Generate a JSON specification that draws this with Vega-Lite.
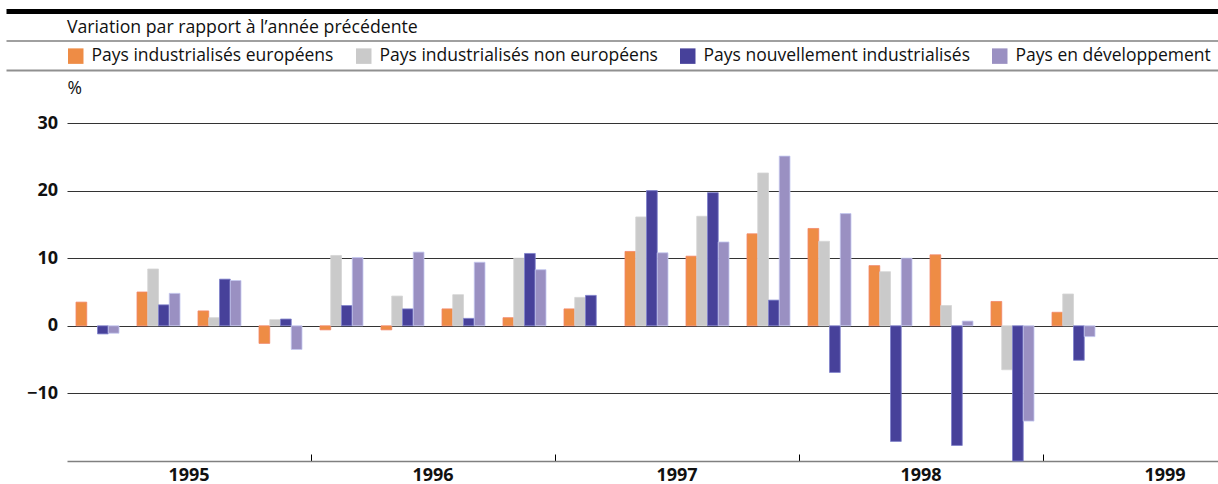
{
  "$schema": "https://vega.github.io/schema/vega-lite/v6.json",
  "width": 1151,
  "height": 338,
  "autosize": {"type": "none"},
  "padding": {"left": 67, "top": 123, "right": 0, "bottom": 23},
  "background": "white",
  "config": {"view": {"stroke": null}, "font": "Open Sans"},
  "title": {
    "text": "Variation par rapport à l’année précédente",
    "anchor": "start",
    "frame": "group",
    "fontSize": 17.7,
    "fontWeight": "normal",
    "color": "#111111",
    "font": "Open Sans",
    "dy": 30
  },
  "datasets": {
    "commerce": [
      {"periode": "1995 T1", "serie": "Pays industrialisés européens", "valeur": 3.5},
      {"periode": "1995 T1", "serie": "Pays nouvellement industrialisés", "valeur": -1.2},
      {"periode": "1995 T1", "serie": "Pays en développement", "valeur": -1.1},
      {"periode": "1995 T2", "serie": "Pays industrialisés européens", "valeur": 5.0},
      {"periode": "1995 T2", "serie": "Pays industrialisés non européens", "valeur": 8.4},
      {"periode": "1995 T2", "serie": "Pays nouvellement industrialisés", "valeur": 3.1},
      {"periode": "1995 T2", "serie": "Pays en développement", "valeur": 4.8},
      {"periode": "1995 T3", "serie": "Pays industrialisés européens", "valeur": 2.2},
      {"periode": "1995 T3", "serie": "Pays industrialisés non européens", "valeur": 1.2},
      {"periode": "1995 T3", "serie": "Pays nouvellement industrialisés", "valeur": 6.9},
      {"periode": "1995 T3", "serie": "Pays en développement", "valeur": 6.7},
      {"periode": "1995 T4", "serie": "Pays industrialisés européens", "valeur": -2.6},
      {"periode": "1995 T4", "serie": "Pays industrialisés non européens", "valeur": 0.9},
      {"periode": "1995 T4", "serie": "Pays nouvellement industrialisés", "valeur": 1.0},
      {"periode": "1995 T4", "serie": "Pays en développement", "valeur": -3.5},
      {"periode": "1996 T1", "serie": "Pays industrialisés européens", "valeur": -0.6},
      {"periode": "1996 T1", "serie": "Pays industrialisés non européens", "valeur": 10.4},
      {"periode": "1996 T1", "serie": "Pays nouvellement industrialisés", "valeur": 3.0},
      {"periode": "1996 T1", "serie": "Pays en développement", "valeur": 10.1},
      {"periode": "1996 T2", "serie": "Pays industrialisés européens", "valeur": -0.6},
      {"periode": "1996 T2", "serie": "Pays industrialisés non européens", "valeur": 4.4},
      {"periode": "1996 T2", "serie": "Pays nouvellement industrialisés", "valeur": 2.5},
      {"periode": "1996 T2", "serie": "Pays en développement", "valeur": 10.9},
      {"periode": "1996 T3", "serie": "Pays industrialisés européens", "valeur": 2.5},
      {"periode": "1996 T3", "serie": "Pays industrialisés non européens", "valeur": 4.6},
      {"periode": "1996 T3", "serie": "Pays nouvellement industrialisés", "valeur": 1.1},
      {"periode": "1996 T3", "serie": "Pays en développement", "valeur": 9.4},
      {"periode": "1996 T4", "serie": "Pays industrialisés européens", "valeur": 1.2},
      {"periode": "1996 T4", "serie": "Pays industrialisés non européens", "valeur": 10.0},
      {"periode": "1996 T4", "serie": "Pays nouvellement industrialisés", "valeur": 10.7},
      {"periode": "1996 T4", "serie": "Pays en développement", "valeur": 8.3},
      {"periode": "1997 T1", "serie": "Pays industrialisés européens", "valeur": 2.5},
      {"periode": "1997 T1", "serie": "Pays industrialisés non européens", "valeur": 4.2},
      {"periode": "1997 T1", "serie": "Pays nouvellement industrialisés", "valeur": 4.5},
      {"periode": "1997 T2", "serie": "Pays industrialisés européens", "valeur": 11.0},
      {"periode": "1997 T2", "serie": "Pays industrialisés non européens", "valeur": 16.1},
      {"periode": "1997 T2", "serie": "Pays nouvellement industrialisés", "valeur": 20.0},
      {"periode": "1997 T2", "serie": "Pays en développement", "valeur": 10.8},
      {"periode": "1997 T3", "serie": "Pays industrialisés européens", "valeur": 10.3},
      {"periode": "1997 T3", "serie": "Pays industrialisés non européens", "valeur": 16.2},
      {"periode": "1997 T3", "serie": "Pays nouvellement industrialisés", "valeur": 19.7},
      {"periode": "1997 T3", "serie": "Pays en développement", "valeur": 12.4},
      {"periode": "1997 T4", "serie": "Pays industrialisés européens", "valeur": 13.6},
      {"periode": "1997 T4", "serie": "Pays industrialisés non européens", "valeur": 22.6},
      {"periode": "1997 T4", "serie": "Pays nouvellement industrialisés", "valeur": 3.8},
      {"periode": "1997 T4", "serie": "Pays en développement", "valeur": 25.1},
      {"periode": "1998 T1", "serie": "Pays industrialisés européens", "valeur": 14.4},
      {"periode": "1998 T1", "serie": "Pays industrialisés non européens", "valeur": 12.5},
      {"periode": "1998 T1", "serie": "Pays nouvellement industrialisés", "valeur": -6.9},
      {"periode": "1998 T1", "serie": "Pays en développement", "valeur": 16.6},
      {"periode": "1998 T2", "serie": "Pays industrialisés européens", "valeur": 8.9},
      {"periode": "1998 T2", "serie": "Pays industrialisés non européens", "valeur": 8.0},
      {"periode": "1998 T2", "serie": "Pays nouvellement industrialisés", "valeur": -17.1},
      {"periode": "1998 T2", "serie": "Pays en développement", "valeur": 10.0},
      {"periode": "1998 T3", "serie": "Pays industrialisés européens", "valeur": 10.5},
      {"periode": "1998 T3", "serie": "Pays industrialisés non européens", "valeur": 3.0},
      {"periode": "1998 T3", "serie": "Pays nouvellement industrialisés", "valeur": -17.7},
      {"periode": "1998 T3", "serie": "Pays en développement", "valeur": 0.7},
      {"periode": "1998 T4", "serie": "Pays industrialisés européens", "valeur": 3.6},
      {"periode": "1998 T4", "serie": "Pays industrialisés non européens", "valeur": -6.5},
      {"periode": "1998 T4", "serie": "Pays nouvellement industrialisés", "valeur": -20.0},
      {"periode": "1998 T4", "serie": "Pays en développement", "valeur": -14.1},
      {"periode": "1999 T1", "serie": "Pays industrialisés européens", "valeur": 2.0},
      {"periode": "1999 T1", "serie": "Pays industrialisés non européens", "valeur": 4.7},
      {"periode": "1999 T1", "serie": "Pays nouvellement industrialisés", "valeur": -5.1},
      {"periode": "1999 T1", "serie": "Pays en développement", "valeur": -1.6}
    ],
    "vide": []
  },
  "layer": [
    {
      "data": {"name": "vide"},
      "mark": "rule",
      "encoding": {
        "x": {
          "field": "h", "type": "quantitative",
          "scale": {"domain": [0, 1], "range": [-61, 1159]},
          "axis": {"orient": "top", "offset": 112, "domain": true, "domainColor": "#000000", "domainWidth": 5, "labels": false, "ticks": false, "grid": false, "title": null}
        }
      }
    },
    {
      "data": {"name": "vide"},
      "mark": "rule",
      "encoding": {
        "x": {
          "field": "h", "type": "quantitative",
          "scale": {"domain": [0, 1], "range": [-61, 1159]},
          "axis": {"orient": "top", "offset": 82.5, "domain": true, "domainColor": "#808080", "domainWidth": 1.5, "labels": false, "ticks": false, "grid": false, "title": null}
        }
      }
    },
    {
      "data": {"name": "vide"},
      "mark": "rule",
      "encoding": {
        "x": {
          "field": "h", "type": "quantitative",
          "scale": {"domain": [0, 1], "range": [-61, 1159]},
          "axis": {"orient": "top", "offset": 53, "domain": true, "domainColor": "#909090", "domainWidth": 2, "labels": false, "ticks": false, "grid": false, "title": null}
        }
      }
    },
    {
      "data": {"name": "commerce"},
      "mark": {"type": "bar", "strokeWidth": 0.8},
      "encoding": {
        "x": {
          "field": "periode", "type": "nominal",
          "scale": {
            "domain": ["1995 T1","1995 T2","1995 T3","1995 T4","1996 T1","1996 T2","1996 T3","1996 T4","1997 T1","1997 T2","1997 T3","1997 T4","1998 T1","1998 T2","1998 T3","1998 T4","1999 T1","1999 T2","1999 T3"],
            "range": [0, 1159],
            "paddingInner": 0,
            "paddingOuter": 0
          },
          "axis": {
            "orient": "bottom",
            "values": ["1995 T3","1996 T1","1996 T3","1997 T1","1997 T3","1998 T1","1998 T3","1999 T1","1999 T3"],
            "bandPosition": 0,
            "labelExpr": "indexof(datum.value, 'T3') >= 0 ? slice(datum.value, 0, 4) : ''",
            "labelAngle": 0,
            "labelOffset": -30.5,
            "labelOverlap": false,
            "labelFontSize": 18,
            "labelFontWeight": "bold",
            "labelColor": "#111111",
            "labelFont": "Open Sans",
            "labelPadding": 12,
            "tickSize": -7,
            "tickWidth": 1,
            "tickColor": {"condition": {"test": "indexof(datum.value, 'T1') >= 0", "value": "#000000"}, "value": "transparent"},
            "domainColor": "#808080",
            "domainWidth": 1.5,
            "grid": false,
            "title": null
          }
        },
        "xOffset": {
          "field": "serie", "type": "nominal",
          "scale": {
            "domain": ["Pays industrialisés européens","Pays industrialisés non européens","Pays nouvellement industrialisés","Pays en développement"],
            "paddingInner": 0,
            "paddingOuter": 0.837
          }
        },
        "y": {
          "field": "valeur", "type": "quantitative",
          "scale": {"domain": [-20, 30], "nice": false, "zero": false},
          "axis": {
            "values": [-10, 0, 10, 20, 30],
            "grid": true,
            "gridColor": "#333333",
            "gridWidth": 1,
            "domain": false,
            "ticks": false,
            "labelFontSize": 18,
            "labelFontWeight": "bold",
            "labelColor": "#111111",
            "labelFont": "Open Sans",
            "labelPadding": 9.5,
            "title": "%",
            "titleAngle": 0,
            "titleX": 0,
            "titleY": -30,
            "titleAlign": "left",
            "titleBaseline": "alphabetic",
            "titleFontSize": 17.5,
            "titleFontWeight": "normal",
            "titleColor": "#111111",
            "titleFont": "Open Sans"
          }
        },
        "color": {
          "field": "serie", "type": "nominal",
          "scale": {
            "domain": ["Pays industrialisés européens","Pays industrialisés non européens","Pays nouvellement industrialisés","Pays en développement"],
            "range": ["#EE8C45","#CACACA","#47419A","#9A90C2"]
          },
          "legend": {
            "orient": "none",
            "legendX": 0,
            "legendY": -76,
            "direction": "horizontal",
            "columns": 4,
            "title": null,
            "padding": 0,
            "symbolType": "square",
            "symbolSize": 240,
            "symbolStrokeWidth": 0,
            "symbolOpacity": 1,
            "labelFontSize": 17.5,
            "labelFont": "Open Sans",
            "labelColor": "#111111",
            "labelOffset": 7,
            "columnPadding": 21,
            "labelLimit": 400
          }
        },
        "stroke": {
          "field": "serie", "type": "nominal",
          "scale": {
            "domain": ["Pays industrialisés européens","Pays industrialisés non européens","Pays nouvellement industrialisés","Pays en développement"],
            "range": ["#F2866A","#D4D4D4","#7F82CC","#C4C8F0"]
          },
          "legend": null
        }
      }
    },
    {
      "mark": {"type": "rule", "color": "#000000", "strokeWidth": 2},
      "encoding": {"y": {"datum": 0}}
    }
  ],
  "resolve": {"scale": {"x": "independent"}}
}
